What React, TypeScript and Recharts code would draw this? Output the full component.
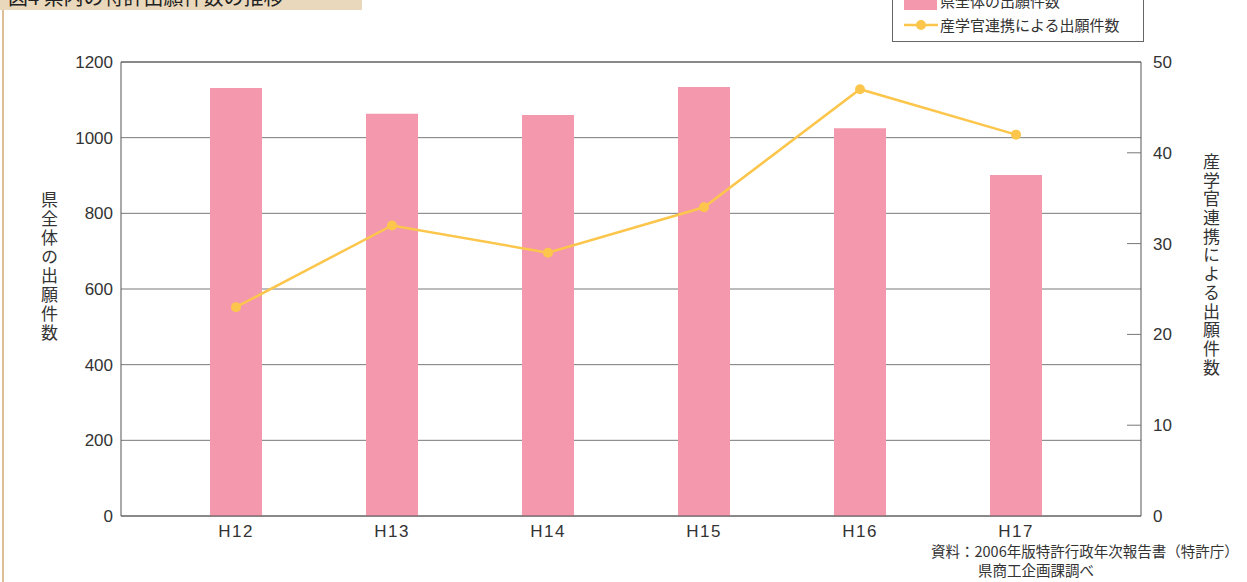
import React from 'react';
import { ComposedChart, Bar, Line, XAxis, YAxis, CartesianGrid, ReferenceLine } from 'recharts';

const categories = ['H12', 'H13', 'H14', 'H15', 'H16', 'H17'];
const prefTotal = [1131, 1063, 1060, 1134, 1025, 901];
const collab = [23, 32, 29, 34, 47, 42];
const leftTicks = [0, 200, 400, 600, 800, 1000, 1200];
const rightTicks = [0, 10, 20, 30, 40, 50];
const barName = '県全体の出願件数';
const lineName = '産学官連携による出願件数';
const titleText = '図4 県内の特許出願件数の推移';
const sourceLine1 = '資料：2006年版特許行政年次報告書（特許庁）';
const sourceLine2 = '県商工企画課調べ';

const data = categories.map((c, i) => ({ name: c, total: prefTotal[i], collab: collab[i] }));

const FONT = '"Noto Sans CJK JP", "Noto Sans", sans-serif';
const NUM_FONT = '"Liberation Sans", Arial, sans-serif';
const BAR_COLOR = '#f498ae';
const LINE_COLOR = '#fcc64c';
const TEXT_COLOR = '#333';
const AXIS_COLOR = '#555';

const RightTick = (props: any) => {
  const { x, y, payload } = props;
  const v = payload.value;
  const showLine = v !== 0 && v !== 50;
  return (
    <g>
      {showLine && (
        <line x1={x - 12 - 14} x2={x - 12} y1={y} y2={y} stroke="#777" strokeWidth={1} />
      )}
      <text x={x} y={y} dy={6} textAnchor="start" fontSize={17} fill={TEXT_COLOR} fontFamily={NUM_FONT}>
        {v}
      </text>
    </g>
  );
};

export default function App() {
  return (
    <div style={{ position: 'fixed', left: 0, top: 0, width: 1247, height: 582, background: '#fff', overflow: 'hidden', fontFamily: FONT }}>
      {/* left decorative line */}
      <div style={{ position: 'absolute', left: 2, top: 0, width: 2, height: 582, background: '#dcbf96' }} />
      {/* title band */}
      <div style={{ position: 'absolute', left: 0, top: 0, width: 362, height: 10, background: '#ead8bc', overflow: 'hidden' }}>
        <div style={{ position: 'absolute', left: 8, top: -14, fontSize: 20, lineHeight: '22px', color: '#222', whiteSpace: 'nowrap' }}>{titleText}</div>
      </div>

      <ComposedChart
        width={1247}
        height={582}
        data={data}
        margin={{ top: 62, left: 61, right: 46, bottom: 36 }}
        style={{ position: 'absolute', left: 0, top: 0 }}
      >
        <CartesianGrid vertical={false} stroke="#7a7a7a" yAxisId="left" />
        <XAxis
          dataKey="name"
          padding={{ left: 37, right: 47 }}
          tickLine={false}
          tickSize={0}
          tickMargin={9}
          height={30}
          axisLine={{ stroke: AXIS_COLOR }}
          tick={{ fontSize: 17, fill: TEXT_COLOR, fontFamily: NUM_FONT, letterSpacing: 1.5 }}
        />
        <YAxis
          yAxisId="left"
          orientation="left"
          domain={[0, 1200]}
          ticks={leftTicks}
          width={60}
          tickLine={false}
          tickSize={0}
          tickMargin={8}
          axisLine={{ stroke: AXIS_COLOR }}
          tick={{ fontSize: 17, fill: TEXT_COLOR, fontFamily: NUM_FONT }}
        />
        <YAxis
          yAxisId="right"
          orientation="right"
          domain={[0, 50]}
          ticks={rightTicks}
          width={60}
          tickLine={false}
          tickSize={0}
          tickMargin={12}
          axisLine={{ stroke: AXIS_COLOR }}
          tick={<RightTick />}
        />
        <ReferenceLine yAxisId="left" y={1200} stroke={AXIS_COLOR} />
        <Bar yAxisId="left" dataKey="total" name={barName} fill={BAR_COLOR} barSize={52} isAnimationActive={false} />
        <Line
          yAxisId="right"
          dataKey="collab"
          name={lineName}
          stroke={LINE_COLOR}
          strokeWidth={2.5}
          dot={{ r: 5, fill: LINE_COLOR, stroke: 'none' }}
          activeDot={false}
          isAnimationActive={false}
        />
      </ComposedChart>

      {/* legend */}
      <div style={{ position: 'absolute', left: 892, top: -20, width: 250, height: 60, border: '1px solid #666', background: '#fff', fontSize: 15, color: TEXT_COLOR }}>
        <div style={{ position: 'absolute', left: 11, top: 12, width: 33, height: 17, background: BAR_COLOR }} />
        <div style={{ position: 'absolute', left: 47, top: 10, lineHeight: '20px', whiteSpace: 'nowrap' }}>{barName}</div>
        <svg style={{ position: 'absolute', left: 11, top: 36 }} width={34} height={16}>
          <line x1={0} x2={34} y1={8} y2={8} stroke={LINE_COLOR} strokeWidth={2.5} />
          <circle cx={17} cy={8} r={5} fill={LINE_COLOR} />
        </svg>
        <div style={{ position: 'absolute', left: 47, top: 34, lineHeight: '20px', whiteSpace: 'nowrap' }}>{lineName}</div>
      </div>

      {/* axis titles */}
      <div style={{ position: 'absolute', left: 39, top: 191, writingMode: 'vertical-rl', fontSize: 17, lineHeight: '20px', letterSpacing: 2, color: TEXT_COLOR }}>{barName}</div>
      <div style={{ position: 'absolute', left: 1201, top: 153, writingMode: 'vertical-rl', fontSize: 17, lineHeight: '20px', letterSpacing: 1.7, color: TEXT_COLOR }}>{lineName}</div>

      {/* source */}
      <div style={{ position: 'absolute', left: 931, top: 542, fontSize: 14.5, lineHeight: '18px', color: TEXT_COLOR, whiteSpace: 'nowrap' }}>{sourceLine1}</div>
      <div style={{ position: 'absolute', left: 978, top: 561, fontSize: 14.5, lineHeight: '18px', color: TEXT_COLOR, whiteSpace: 'nowrap' }}>{sourceLine2}</div>
    </div>
  );
}
